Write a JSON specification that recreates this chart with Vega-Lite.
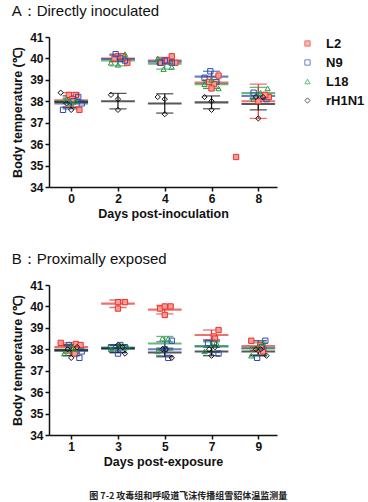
{
  "$schema": "https://vega.github.io/schema/vega-lite/v6.json",
  "padding": {"left": 11, "top": 4, "right": 4, "bottom": 4},
  "datasets": {
    "pts": [
      {"panel": "A", "group": "L2", "day": -0.1, "temp": 38.3},
      {"panel": "A", "group": "L2", "day": 0.2, "temp": 38.3},
      {"panel": "A", "group": "L2", "day": 0.05, "temp": 38.1},
      {"panel": "A", "group": "L2", "day": 0.35, "temp": 37.6},
      {"panel": "A", "group": "N9", "day": -0.35, "temp": 37.6},
      {"panel": "A", "group": "N9", "day": 0.3, "temp": 38.2},
      {"panel": "A", "group": "N9", "day": 0.45, "temp": 37.9},
      {"panel": "A", "group": "N9", "day": 0.1, "temp": 38.0},
      {"panel": "A", "group": "L18", "day": -0.2, "temp": 38.1},
      {"panel": "A", "group": "L18", "day": 0.0, "temp": 37.9},
      {"panel": "A", "group": "L18", "day": 0.2, "temp": 38.0},
      {"panel": "A", "group": "rH1N1", "day": -0.45, "temp": 38.4},
      {"panel": "A", "group": "rH1N1", "day": 0.0, "temp": 37.6},
      {"panel": "A", "group": "rH1N1", "day": -0.2, "temp": 37.9},

      {"panel": "A", "group": "L2", "day": 2.0, "temp": 40.1},
      {"panel": "A", "group": "L2", "day": 2.2, "temp": 40.1},
      {"panel": "A", "group": "L2", "day": 2.4, "temp": 39.8},
      {"panel": "A", "group": "L2", "day": 1.85, "temp": 40.0},
      {"panel": "A", "group": "N9", "day": 1.9, "temp": 40.2},
      {"panel": "A", "group": "N9", "day": 2.1, "temp": 40.0},
      {"panel": "A", "group": "N9", "day": 2.3, "temp": 39.9},
      {"panel": "A", "group": "L18", "day": 2.3, "temp": 40.2},
      {"panel": "A", "group": "L18", "day": 1.7, "temp": 39.8},
      {"panel": "A", "group": "L18", "day": 2.0, "temp": 39.7},
      {"panel": "A", "group": "rH1N1", "day": 1.7, "temp": 38.3},
      {"panel": "A", "group": "rH1N1", "day": 2.0, "temp": 38.1},
      {"panel": "A", "group": "rH1N1", "day": 2.0, "temp": 37.6},

      {"panel": "A", "group": "L2", "day": 4.3, "temp": 40.1},
      {"panel": "A", "group": "L2", "day": 4.1, "temp": 39.9},
      {"panel": "A", "group": "L2", "day": 4.45, "temp": 39.8},
      {"panel": "A", "group": "L2", "day": 3.85, "temp": 39.8},
      {"panel": "A", "group": "N9", "day": 3.8, "temp": 39.8},
      {"panel": "A", "group": "N9", "day": 4.0, "temp": 39.9},
      {"panel": "A", "group": "N9", "day": 4.3, "temp": 39.8},
      {"panel": "A", "group": "L18", "day": 3.7, "temp": 40.0},
      {"panel": "A", "group": "L18", "day": 3.95, "temp": 39.5},
      {"panel": "A", "group": "L18", "day": 4.3, "temp": 39.6},
      {"panel": "A", "group": "rH1N1", "day": 3.7, "temp": 38.2},
      {"panel": "A", "group": "rH1N1", "day": 4.0, "temp": 38.1},
      {"panel": "A", "group": "rH1N1", "day": 4.0, "temp": 37.4},

      {"panel": "A", "group": "N9", "day": 5.95, "temp": 39.4},
      {"panel": "A", "group": "N9", "day": 5.7, "temp": 39.1},
      {"panel": "A", "group": "N9", "day": 6.2, "temp": 38.9},
      {"panel": "A", "group": "L2", "day": 6.3, "temp": 39.2},
      {"panel": "A", "group": "L2", "day": 6.1, "temp": 38.8},
      {"panel": "A", "group": "L2", "day": 6.0, "temp": 38.6},
      {"panel": "A", "group": "L2", "day": 5.9, "temp": 38.9},
      {"panel": "A", "group": "L18", "day": 5.7, "temp": 38.8},
      {"panel": "A", "group": "L18", "day": 6.0, "temp": 39.0},
      {"panel": "A", "group": "L18", "day": 6.3, "temp": 38.6},
      {"panel": "A", "group": "rH1N1", "day": 5.7, "temp": 38.2},
      {"panel": "A", "group": "rH1N1", "day": 6.0, "temp": 38.0},
      {"panel": "A", "group": "rH1N1", "day": 6.0, "temp": 37.6},

      {"panel": "A", "group": "L18", "day": 8.4, "temp": 38.6},
      {"panel": "A", "group": "L18", "day": 7.8, "temp": 38.1},
      {"panel": "A", "group": "L18", "day": 8.1, "temp": 38.4},
      {"panel": "A", "group": "N9", "day": 7.8, "temp": 38.4},
      {"panel": "A", "group": "N9", "day": 8.3, "temp": 38.2},
      {"panel": "A", "group": "N9", "day": 8.35, "temp": 38.1},
      {"panel": "A", "group": "L2", "day": 8.45, "temp": 38.2},
      {"panel": "A", "group": "L2", "day": 8.0, "temp": 38.0},
      {"panel": "A", "group": "L2", "day": 8.3, "temp": 38.3},
      {"panel": "A", "group": "L2", "day": 7.05, "temp": 35.4},
      {"panel": "A", "group": "rH1N1", "day": 7.9, "temp": 38.2},
      {"panel": "A", "group": "rH1N1", "day": 8.2, "temp": 38.2},
      {"panel": "A", "group": "rH1N1", "day": 8.0, "temp": 37.2},

      {"panel": "B", "group": "L2", "day": 0.55, "temp": 38.3},
      {"panel": "B", "group": "L2", "day": 1.2, "temp": 38.25},
      {"panel": "B", "group": "L2", "day": 1.4, "temp": 38.2},
      {"panel": "B", "group": "L2", "day": 1.15, "temp": 37.8},
      {"panel": "B", "group": "N9", "day": 0.9, "temp": 38.2},
      {"panel": "B", "group": "N9", "day": 1.35, "temp": 37.6},
      {"panel": "B", "group": "N9", "day": 1.45, "temp": 37.9},
      {"panel": "B", "group": "L18", "day": 0.7, "temp": 37.8},
      {"panel": "B", "group": "L18", "day": 1.0, "temp": 38.1},
      {"panel": "B", "group": "L18", "day": 1.15, "temp": 38.0},
      {"panel": "B", "group": "rH1N1", "day": 1.0, "temp": 37.6},
      {"panel": "B", "group": "rH1N1", "day": 0.85, "temp": 38.0},
      {"panel": "B", "group": "rH1N1", "day": 1.25, "temp": 38.1},

      {"panel": "B", "group": "L2", "day": 3.0, "temp": 40.2},
      {"panel": "B", "group": "L2", "day": 3.3, "temp": 40.2},
      {"panel": "B", "group": "L2", "day": 3.0, "temp": 39.9},
      {"panel": "B", "group": "N9", "day": 2.7, "temp": 38.1},
      {"panel": "B", "group": "N9", "day": 3.0, "temp": 37.8},
      {"panel": "B", "group": "N9", "day": 3.3, "temp": 38.1},
      {"panel": "B", "group": "N9", "day": 3.1, "temp": 38.2},
      {"panel": "B", "group": "L18", "day": 2.7, "temp": 38.0},
      {"panel": "B", "group": "L18", "day": 3.1, "temp": 38.2},
      {"panel": "B", "group": "L18", "day": 3.4, "temp": 38.1},
      {"panel": "B", "group": "rH1N1", "day": 3.3, "temp": 37.8},
      {"panel": "B", "group": "rH1N1", "day": 3.0, "temp": 38.2},
      {"panel": "B", "group": "rH1N1", "day": 3.2, "temp": 38.1},

      {"panel": "B", "group": "L2", "day": 4.8, "temp": 39.9},
      {"panel": "B", "group": "L2", "day": 5.0, "temp": 40.0},
      {"panel": "B", "group": "L2", "day": 5.25, "temp": 40.0},
      {"panel": "B", "group": "L2", "day": 5.0, "temp": 39.6},
      {"panel": "B", "group": "L18", "day": 4.9, "temp": 38.5},
      {"panel": "B", "group": "L18", "day": 5.15, "temp": 38.5},
      {"panel": "B", "group": "L18", "day": 4.7, "temp": 37.9},
      {"panel": "B", "group": "N9", "day": 5.3, "temp": 38.4},
      {"panel": "B", "group": "N9", "day": 5.0, "temp": 38.0},
      {"panel": "B", "group": "N9", "day": 5.15, "temp": 37.6},
      {"panel": "B", "group": "rH1N1", "day": 5.3, "temp": 37.6},
      {"panel": "B", "group": "rH1N1", "day": 4.9, "temp": 38.0},
      {"panel": "B", "group": "rH1N1", "day": 5.05, "temp": 38.0},

      {"panel": "B", "group": "L2", "day": 7.3, "temp": 38.9},
      {"panel": "B", "group": "L2", "day": 7.1, "temp": 38.6},
      {"panel": "B", "group": "L2", "day": 7.15, "temp": 38.5},
      {"panel": "B", "group": "N9", "day": 6.85, "temp": 38.3},
      {"panel": "B", "group": "N9", "day": 7.1, "temp": 38.3},
      {"panel": "B", "group": "N9", "day": 7.3, "temp": 37.8},
      {"panel": "B", "group": "L18", "day": 6.7, "temp": 37.9},
      {"panel": "B", "group": "L18", "day": 7.2, "temp": 38.3},
      {"panel": "B", "group": "L18", "day": 7.0, "temp": 38.2},
      {"panel": "B", "group": "rH1N1", "day": 7.0, "temp": 37.7},
      {"panel": "B", "group": "rH1N1", "day": 6.9, "temp": 38.0},
      {"panel": "B", "group": "rH1N1", "day": 7.15, "temp": 38.1},

      {"panel": "B", "group": "L2", "day": 8.7, "temp": 38.4},
      {"panel": "B", "group": "L2", "day": 9.05, "temp": 38.0},
      {"panel": "B", "group": "L2", "day": 9.2, "temp": 37.9},
      {"panel": "B", "group": "L2", "day": 9.1, "temp": 38.2},
      {"panel": "B", "group": "N9", "day": 9.3, "temp": 38.4},
      {"panel": "B", "group": "N9", "day": 8.95, "temp": 37.6},
      {"panel": "B", "group": "N9", "day": 9.15, "temp": 38.1},
      {"panel": "B", "group": "L18", "day": 8.7, "temp": 37.7},
      {"panel": "B", "group": "L18", "day": 9.2, "temp": 38.3},
      {"panel": "B", "group": "L18", "day": 9.0, "temp": 38.1},
      {"panel": "B", "group": "rH1N1", "day": 9.35, "temp": 37.7},
      {"panel": "B", "group": "rH1N1", "day": 8.9, "temp": 38.0},
      {"panel": "B", "group": "rH1N1", "day": 9.1, "temp": 38.0}
    ],
    "sum": [
      {"panel": "A", "group": "L2", "day": 0, "mean": 38.05, "lo": 37.75, "hi": 38.4},
      {"panel": "A", "group": "N9", "day": 0, "mean": 37.9, "lo": 37.65, "hi": 38.15},
      {"panel": "A", "group": "L18", "day": 0, "mean": 38.0, "lo": 37.9, "hi": 38.1},
      {"panel": "A", "group": "rH1N1", "day": 0, "mean": 37.97, "lo": 37.7, "hi": 38.25},
      {"panel": "A", "group": "L2", "day": 2, "mean": 40.0, "lo": 39.85, "hi": 40.15},
      {"panel": "A", "group": "N9", "day": 2, "mean": 39.97, "lo": 39.85, "hi": 40.2},
      {"panel": "A", "group": "L18", "day": 2, "mean": 39.9, "lo": 39.65, "hi": 40.15},
      {"panel": "A", "group": "rH1N1", "day": 2, "mean": 38.0, "lo": 37.65, "hi": 38.37},
      {"panel": "A", "group": "L2", "day": 4, "mean": 39.9, "lo": 39.75, "hi": 40.05},
      {"panel": "A", "group": "N9", "day": 4, "mean": 39.85, "lo": 39.75, "hi": 39.95},
      {"panel": "A", "group": "L18", "day": 4, "mean": 39.75, "lo": 39.5, "hi": 40.0},
      {"panel": "A", "group": "rH1N1", "day": 4, "mean": 37.9, "lo": 37.45, "hi": 38.35},
      {"panel": "A", "group": "N9", "day": 6, "mean": 39.15, "lo": 38.9, "hi": 39.4},
      {"panel": "A", "group": "L2", "day": 6, "mean": 38.87, "lo": 38.6, "hi": 39.15},
      {"panel": "A", "group": "L18", "day": 6, "mean": 38.8, "lo": 38.6, "hi": 39.0},
      {"panel": "A", "group": "rH1N1", "day": 6, "mean": 37.95, "lo": 37.65, "hi": 38.25},
      {"panel": "A", "group": "L18", "day": 8, "mean": 38.38, "lo": 38.1, "hi": 38.65},
      {"panel": "A", "group": "N9", "day": 8, "mean": 38.25, "lo": 38.1, "hi": 38.4},
      {"panel": "A", "group": "L2", "day": 8, "mean": 38.0, "lo": 37.2, "hi": 38.8},
      {"panel": "A", "group": "rH1N1", "day": 8, "mean": 37.87, "lo": 37.6, "hi": 38.15},

      {"panel": "B", "group": "L2", "day": 1, "mean": 38.1, "lo": 37.85, "hi": 38.3},
      {"panel": "B", "group": "N9", "day": 1, "mean": 37.95, "lo": 37.7, "hi": 38.2},
      {"panel": "B", "group": "L18", "day": 1, "mean": 37.98, "lo": 37.8, "hi": 38.15},
      {"panel": "B", "group": "rH1N1", "day": 1, "mean": 37.95, "lo": 37.7, "hi": 38.2},
      {"panel": "B", "group": "L2", "day": 3, "mean": 40.13, "lo": 39.95, "hi": 40.3},
      {"panel": "B", "group": "N9", "day": 3, "mean": 38.03, "lo": 37.85, "hi": 38.2},
      {"panel": "B", "group": "L18", "day": 3, "mean": 38.08, "lo": 37.95, "hi": 38.2},
      {"panel": "B", "group": "rH1N1", "day": 3, "mean": 38.05, "lo": 37.85, "hi": 38.2},
      {"panel": "B", "group": "L2", "day": 5, "mean": 39.85, "lo": 39.65, "hi": 40.05},
      {"panel": "B", "group": "L18", "day": 5, "mean": 38.27, "lo": 37.95, "hi": 38.6},
      {"panel": "B", "group": "N9", "day": 5, "mean": 38.0, "lo": 37.7, "hi": 38.35},
      {"panel": "B", "group": "rH1N1", "day": 5, "mean": 37.85, "lo": 37.65, "hi": 38.05},
      {"panel": "B", "group": "L2", "day": 7, "mean": 38.67, "lo": 38.45, "hi": 38.9},
      {"panel": "B", "group": "N9", "day": 7, "mean": 38.13, "lo": 37.85, "hi": 38.4},
      {"panel": "B", "group": "L18", "day": 7, "mean": 38.15, "lo": 37.9, "hi": 38.35},
      {"panel": "B", "group": "rH1N1", "day": 7, "mean": 37.9, "lo": 37.7, "hi": 38.1},
      {"panel": "B", "group": "L2", "day": 9, "mean": 38.15, "lo": 37.95, "hi": 38.4},
      {"panel": "B", "group": "N9", "day": 9, "mean": 38.05, "lo": 37.7, "hi": 38.4},
      {"panel": "B", "group": "L18", "day": 9, "mean": 38.05, "lo": 37.75, "hi": 38.3},
      {"panel": "B", "group": "rH1N1", "day": 9, "mean": 37.9, "lo": 37.7, "hi": 38.1}
    ]
  },
  "title": {
    "text": "图 7-2 攻毒组和呼吸道飞沫传播组雪貂体温监测量",
    "orient": "bottom",
    "anchor": "middle",
    "font": "Noto Sans CJK SC",
    "fontSize": 9,
    "fontWeight": "bold",
    "color": "#222222",
    "offset": 24
  },
  "spacing": 32,
  "vconcat": [
    {
      "title": {"text": "A：Directly inoculated"},
      "width": 228,
      "height": 150,
      "layer": [
        {
          "mark": {"type": "rule", "color": "#a0a0a0", "strokeDash": [1, 1.5], "strokeWidth": 1},
          "encoding": {"y": {"datum": 39, "type": "quantitative", "scale": {"domain": [34, 41], "nice": false, "zero": false}, "axis": {"values": [34, 35, 36, 37, 38, 39, 40, 41], "title": "Body temperature (℃)"}}}
        },
        {
          "data": {"name": "sum"},
          "transform": [{"filter": "datum.panel == 'A'"}],
          "mark": {"type": "rule", "strokeWidth": 1.2},
          "encoding": {
            "x": {"field": "day", "type": "quantitative", "scale": {"domain": [-0.95, 8.8], "nice": false, "zero": false}, "axis": {"values": [0, 2, 4, 6, 8], "title": "Days post-inoculation"}},
            "y": {"field": "lo", "type": "quantitative", "scale": {"domain": [34, 41], "nice": false, "zero": false}, "axis": {"values": [34, 35, 36, 37, 38, 39, 40, 41], "title": "Body temperature (℃)"}},
            "y2": {"field": "hi"},
            "stroke": {"field": "group", "type": "nominal", "scale": {"domain": ["L2", "N9", "L18", "rH1N1"], "range": ["#e8342c", "#2f4aad", "#2a9a44", "#111111"]}, "title": null}
          }
        },
        {
          "data": {"name": "sum"},
          "transform": [{"filter": "datum.panel == 'A'"}],
          "mark": {"type": "tick", "orient": "horizontal", "filled": false, "size": 16, "thickness": 0.2, "strokeWidth": 1.1},
          "encoding": {
            "x": {"field": "day", "type": "quantitative", "axis": {"values": [0, 2, 4, 6, 8], "title": "Days post-inoculation"}},
            "y": {"field": "hi", "type": "quantitative", "axis": {"values": [34, 35, 36, 37, 38, 39, 40, 41], "title": "Body temperature (℃)"}},
            "stroke": {"field": "group", "type": "nominal", "title": null}
          }
        },
        {
          "data": {"name": "sum"},
          "transform": [{"filter": "datum.panel == 'A'"}],
          "mark": {"type": "tick", "orient": "horizontal", "filled": false, "size": 16, "thickness": 0.2, "strokeWidth": 1.1},
          "encoding": {
            "x": {"field": "day", "type": "quantitative", "axis": {"values": [0, 2, 4, 6, 8], "title": "Days post-inoculation"}},
            "y": {"field": "lo", "type": "quantitative", "axis": {"values": [34, 35, 36, 37, 38, 39, 40, 41], "title": "Body temperature (℃)"}},
            "stroke": {"field": "group", "type": "nominal", "title": null}
          }
        },
        {
          "data": {"name": "sum"},
          "transform": [{"filter": "datum.panel == 'A'"}],
          "mark": {"type": "tick", "orient": "horizontal", "filled": false, "size": 32, "thickness": 0.4, "strokeWidth": 1.7},
          "encoding": {
            "x": {"field": "day", "type": "quantitative", "axis": {"values": [0, 2, 4, 6, 8], "title": "Days post-inoculation"}},
            "y": {"field": "mean", "type": "quantitative", "axis": {"values": [34, 35, 36, 37, 38, 39, 40, 41], "title": "Body temperature (℃)"}},
            "stroke": {"field": "group", "type": "nominal", "title": null}
          }
        },
        {
          "data": {"name": "pts"},
          "transform": [{"filter": "datum.panel == 'A'"}],
          "mark": {"type": "point", "size": 28, "strokeWidth": 1, "opacity": 1},
          "encoding": {
            "x": {"field": "day", "type": "quantitative", "axis": {"values": [0, 2, 4, 6, 8], "title": "Days post-inoculation"}},
            "y": {"field": "temp", "type": "quantitative", "axis": {"values": [34, 35, 36, 37, 38, 39, 40, 41], "title": "Body temperature (℃)"}},
            "stroke": {"field": "group", "type": "nominal", "title": null},
            "fill": {"field": "group", "type": "nominal", "scale": {"domain": ["L2", "N9", "L18", "rH1N1"], "range": ["#f59c95", "transparent", "transparent", "transparent"]}, "title": null},
            "shape": {"field": "group", "type": "nominal", "scale": {"domain": ["L2", "N9", "L18", "rH1N1"], "range": ["square", "square", "triangle-up", "diamond"]}, "title": null}
          }
        }
      ]
    },
    {
      "title": {"text": "B：Proximally exposed"},
      "width": 228,
      "height": 150,
      "layer": [
        {
          "mark": {"type": "rule", "color": "#a0a0a0", "strokeDash": [1, 1.5], "strokeWidth": 1},
          "encoding": {"y": {"datum": 39, "type": "quantitative", "scale": {"domain": [34, 41], "nice": false, "zero": false}, "axis": {"values": [34, 35, 36, 37, 38, 39, 40, 41], "title": "Body temperature (℃)"}}}
        },
        {
          "data": {"name": "sum"},
          "transform": [{"filter": "datum.panel == 'B'"}],
          "mark": {"type": "rule", "strokeWidth": 1.2},
          "encoding": {
            "x": {"field": "day", "type": "quantitative", "scale": {"domain": [0.05, 9.8], "nice": false, "zero": false}, "axis": {"values": [1, 3, 5, 7, 9], "title": "Days post-exposure"}},
            "y": {"field": "lo", "type": "quantitative", "scale": {"domain": [34, 41], "nice": false, "zero": false}, "axis": {"values": [34, 35, 36, 37, 38, 39, 40, 41], "title": "Body temperature (℃)"}},
            "y2": {"field": "hi"},
            "stroke": {"field": "group", "type": "nominal", "title": null}
          }
        },
        {
          "data": {"name": "sum"},
          "transform": [{"filter": "datum.panel == 'B'"}],
          "mark": {"type": "tick", "orient": "horizontal", "filled": false, "size": 16, "thickness": 0.2, "strokeWidth": 1.1},
          "encoding": {
            "x": {"field": "day", "type": "quantitative", "axis": {"values": [1, 3, 5, 7, 9], "title": "Days post-exposure"}},
            "y": {"field": "hi", "type": "quantitative", "axis": {"values": [34, 35, 36, 37, 38, 39, 40, 41], "title": "Body temperature (℃)"}},
            "stroke": {"field": "group", "type": "nominal", "title": null}
          }
        },
        {
          "data": {"name": "sum"},
          "transform": [{"filter": "datum.panel == 'B'"}],
          "mark": {"type": "tick", "orient": "horizontal", "filled": false, "size": 16, "thickness": 0.2, "strokeWidth": 1.1},
          "encoding": {
            "x": {"field": "day", "type": "quantitative", "axis": {"values": [1, 3, 5, 7, 9], "title": "Days post-exposure"}},
            "y": {"field": "lo", "type": "quantitative", "axis": {"values": [34, 35, 36, 37, 38, 39, 40, 41], "title": "Body temperature (℃)"}},
            "stroke": {"field": "group", "type": "nominal", "title": null}
          }
        },
        {
          "data": {"name": "sum"},
          "transform": [{"filter": "datum.panel == 'B'"}],
          "mark": {"type": "tick", "orient": "horizontal", "filled": false, "size": 32, "thickness": 0.4, "strokeWidth": 1.7},
          "encoding": {
            "x": {"field": "day", "type": "quantitative", "axis": {"values": [1, 3, 5, 7, 9], "title": "Days post-exposure"}},
            "y": {"field": "mean", "type": "quantitative", "axis": {"values": [34, 35, 36, 37, 38, 39, 40, 41], "title": "Body temperature (℃)"}},
            "stroke": {"field": "group", "type": "nominal", "title": null}
          }
        },
        {
          "data": {"name": "pts"},
          "transform": [{"filter": "datum.panel == 'B'"}],
          "mark": {"type": "point", "size": 28, "strokeWidth": 1, "opacity": 1},
          "encoding": {
            "x": {"field": "day", "type": "quantitative", "axis": {"values": [1, 3, 5, 7, 9], "title": "Days post-exposure"}},
            "y": {"field": "temp", "type": "quantitative", "axis": {"values": [34, 35, 36, 37, 38, 39, 40, 41], "title": "Body temperature (℃)"}},
            "stroke": {"field": "group", "type": "nominal", "title": null},
            "fill": {"field": "group", "type": "nominal", "title": null},
            "shape": {"field": "group", "type": "nominal", "title": null}
          }
        }
      ]
    }
  ],
  "config": {
    "font": "Liberation Sans",
    "view": {"stroke": null},
    "title": {"font": "Liberation Sans", "fontSize": 15, "fontWeight": "normal", "anchor": "start", "frame": "bounds", "color": "#111111", "offset": 12},
    "axis": {
      "grid": false,
      "domainColor": "#111111",
      "domainWidth": 1.5,
      "tickColor": "#111111",
      "tickWidth": 1.5,
      "tickSize": 4,
      "labelFont": "Liberation Sans",
      "labelFontSize": 12,
      "labelFontWeight": "bold",
      "labelColor": "#111111",
      "labelPadding": 2,
      "titleFont": "Liberation Sans",
      "titleFontSize": 12.5,
      "titleFontWeight": "bold",
      "titleColor": "#111111"
    },
    "axisX": {"titlePadding": 3},
    "axisY": {"titlePadding": 5},
    "legend": {
      "orient": "right",
      "offset": 24,
      "padding": 0,
      "labelFont": "Liberation Sans",
      "labelFontSize": 13,
      "labelFontWeight": "bold",
      "labelColor": "#111111",
      "labelOffset": 12,
      "symbolSize": 28,
      "symbolStrokeWidth": 1,
      "rowPadding": 5
    }
  }
}
